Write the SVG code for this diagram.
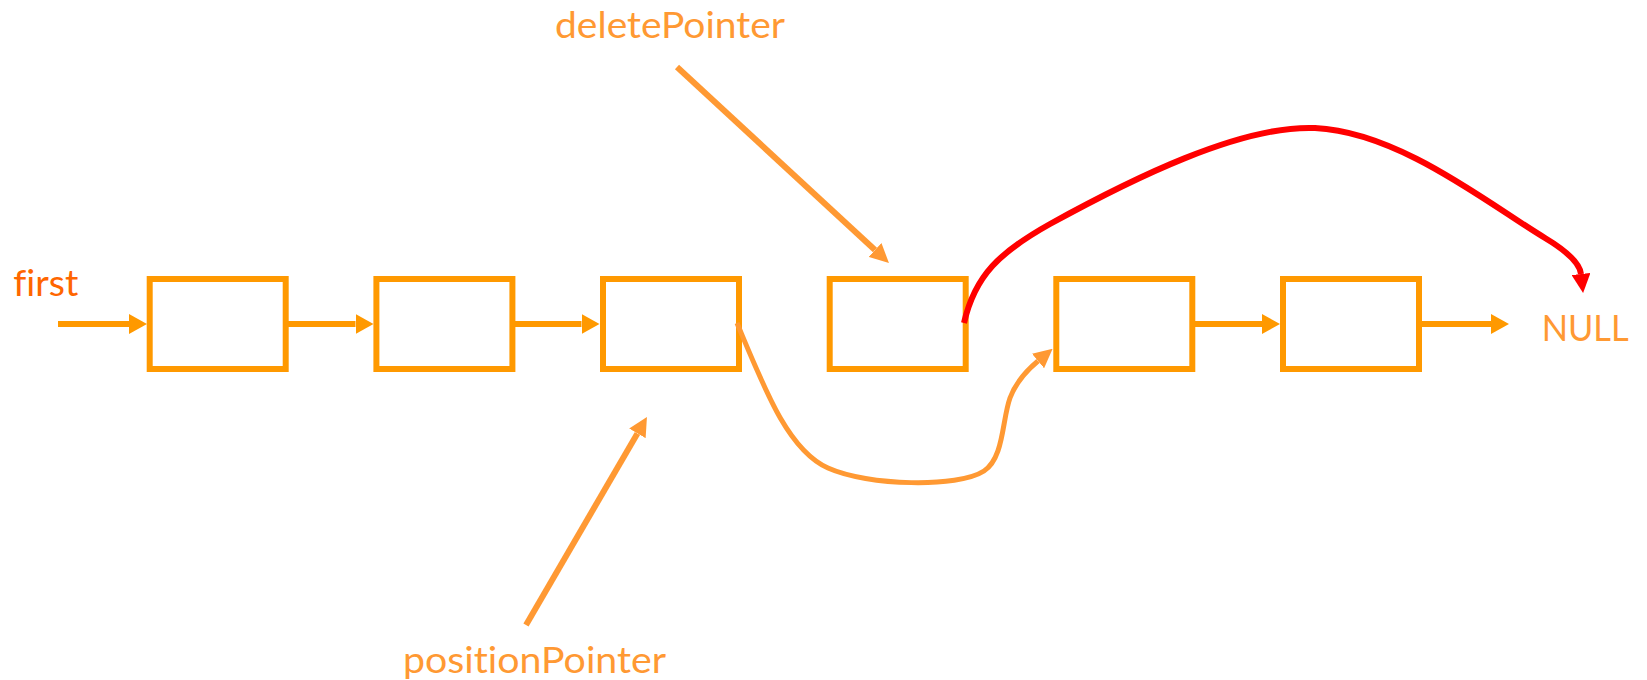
<svg xmlns="http://www.w3.org/2000/svg" width="1647" height="680" viewBox="0 0 1647 680">
  <style>
    .node { fill: none; stroke: #FF9900; stroke-width: 6; }
    .link { fill: none; stroke: #FF9900; stroke-width: 6; }
    .ptr { fill: none; stroke: #FF9933; stroke-width: 6; }
    .skip { fill: none; stroke: #FF9933; stroke-width: 5; }
    .unlink { fill: none; stroke: #FF0000; stroke-width: 6; }
    .label { font-family: Lato, "Open Sans", "Liberation Sans", sans-serif; font-size: 36px; fill: #FF9933; font-variant-ligatures: none; }
    .head-label { fill: #FF6600; }
  </style>
  <defs>
    <marker id="arrow-link" markerUnits="userSpaceOnUse" viewBox="0 0 18 20" markerWidth="18" markerHeight="20" refX="0" refY="10" orient="auto">
      <path d="M0,0 L18,10 L0,20 z" fill="#FF9900"/>
    </marker>
    <marker id="arrow-ptr" markerUnits="userSpaceOnUse" viewBox="0 0 19 19" markerWidth="19" markerHeight="19" refX="0" refY="9.5" orient="auto">
      <path d="M0,0 L19,9.5 L0,19 z" fill="#FF9933"/>
    </marker>
    <marker id="arrow-unlink" markerUnits="userSpaceOnUse" viewBox="0 0 19 19" markerWidth="19" markerHeight="19" refX="0" refY="9.5" orient="auto">
      <path d="M0,0 L19,9.5 L0,19 z" fill="#FF0000"/>
    </marker>
  </defs>

  <!-- list nodes -->
  <g id="node1"><rect class="node" x="149.7" y="279" width="136" height="90"/></g>
  <g id="node2"><rect class="node" x="376.4" y="279" width="136" height="90"/></g>
  <g id="node3"><rect class="node" x="603" y="279" width="136" height="90"/></g>
  <g id="node4"><rect class="node" x="829.7" y="279" width="136" height="90"/></g>
  <g id="node5"><rect class="node" x="1056.3" y="279" width="136" height="90"/></g>
  <g id="node6"><rect class="node" x="1283" y="279" width="136" height="90"/></g>

  <!-- labels -->
  <g id="first">
    <text class="label head-label" x="13.3" y="296" textLength="65" lengthAdjust="spacingAndGlyphs">first</text>
  </g>
  <g id="deletePointer">
    <text class="label" x="555" y="37.5" textLength="230" lengthAdjust="spacingAndGlyphs">deletePointer</text>
  </g>
  <g id="positionPointer">
    <text class="label" x="403" y="673" textLength="263" lengthAdjust="spacingAndGlyphs">positionPointer</text>
  </g>
  <g id="null">
    <text class="label" x="1541.7" y="340.7" textLength="87" lengthAdjust="spacingAndGlyphs">NULL</text>
  </g>

  <!-- connectors -->
  <g id="connectors">
    <line class="link" x1="58" y1="324" x2="129" y2="324" marker-end="url(#arrow-link)"/>
    <line class="link" x1="288" y1="324" x2="355.5" y2="324" marker-end="url(#arrow-link)"/>
    <line class="link" x1="515" y1="324" x2="581.5" y2="324" marker-end="url(#arrow-link)"/>
    <line class="link" x1="1195" y1="324" x2="1262" y2="324" marker-end="url(#arrow-link)"/>
    <line class="link" x1="1422" y1="324" x2="1491" y2="324" marker-end="url(#arrow-link)"/>

    <line class="ptr" x1="677" y1="67" x2="875" y2="250" marker-end="url(#arrow-ptr)"/>
    <line class="ptr" x1="526" y1="625" x2="637.4" y2="433.4" marker-end="url(#arrow-ptr)"/>

    <path class="skip" d="M737,323 C765,390 788,450 828,468 C868,486 958,488 984,471 C1004,458 1002,420 1010,398 C1016,382 1026,371 1038,361" marker-end="url(#arrow-ptr)"/>

    <path class="unlink" d="M964,323 C975,275 1000,252 1050,224 C1130,180 1240,125 1315,128 C1400,132 1490,205 1545,238 C1570,253 1580,265 1581,274" marker-end="url(#arrow-unlink)"/>
  </g>
</svg>
